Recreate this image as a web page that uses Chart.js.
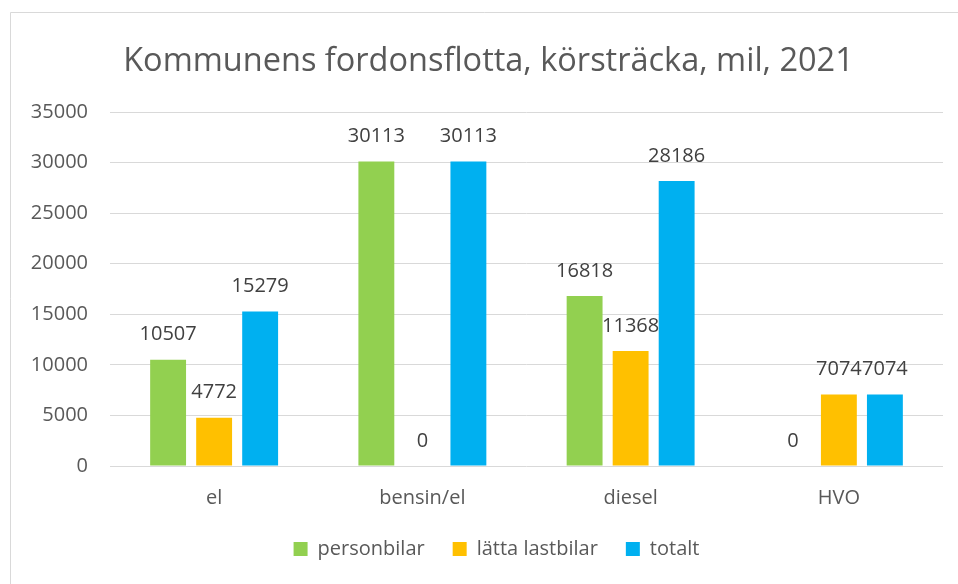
<!DOCTYPE html>
<html>
<head>
<meta charset="utf-8">
<script src="https://cdn.jsdelivr.net/npm/chart.js@4/dist/chart.umd.min.js"></script>
<style>
  html, body { margin: 0; padding: 0; background: #ffffff; }
  #wrap { width: 958px; height: 584px; position: relative; }
</style>
</head>
<body>
<div id="wrap"><canvas id="c" width="958" height="584"></canvas></div>
<script>
const titleText = "Kommunens fordonsflotta, körsträcka, mil, 2021";
const categories = ["el", "bensin/el", "diesel", "HVO"];
const seriesNames = ["personbilar", "lätta lastbilar", "totalt"];
const personbilar = [10507, 30113, 16818, 0];
const lattaLastbilar = [4772, 0, 11368, 7074];
const totalt = [15279, 30113, 28186, 7074];
const yTicks = [0, 5000, 10000, 15000, 20000, 25000, 30000, 35000];

const FONT = "'Open Sans', 'Noto Sans', sans-serif";
const FS = 20;

const frame = {
  id: 'frame',
  afterLayout(chart) {
    if (chart.titleBlock) { chart.titleBlock.left += 11; chart.titleBlock.right += 11; }
    if (chart.legend) { chart.legend.left += 19; chart.legend.right += 19; }
  },
  beforeDraw(chart) {
    const ctx = chart.ctx;
    ctx.save();
    ctx.fillStyle = '#ffffff';
    ctx.fillRect(0, 0, chart.width, chart.height);
    ctx.strokeStyle = '#d9d9d9';
    ctx.lineWidth = 1;
    ctx.beginPath();
    ctx.moveTo(10.5, chart.height);
    ctx.lineTo(10.5, 12.5);
    ctx.lineTo(chart.width, 12.5);
    ctx.stroke();
    ctx.restore();
  }
};

const valueLabels = {
  id: 'valueLabels',
  afterDatasetsDraw(chart) {
    const ctx = chart.ctx;
    ctx.save();
    ctx.font = FS + "px " + FONT;
    ctx.fillStyle = '#404040';
    ctx.textAlign = 'center';
    ctx.textBaseline = 'middle';
    chart.data.datasets.forEach((ds, i) => {
      const meta = chart.getDatasetMeta(i);
      meta.data.forEach((bar, j) => {
        ctx.fillText(String(ds.data[j]), bar.x, bar.y - 25);
      });
    });
    ctx.restore();
  }
};

new Chart(document.getElementById('c'), {
  type: 'bar',
  data: {
    labels: categories,
    datasets: [
      { label: seriesNames[0], data: personbilar, backgroundColor: '#92D050' },
      { label: seriesNames[1], data: lattaLastbilar, backgroundColor: '#FFC000' },
      { label: seriesNames[2], data: totalt, backgroundColor: '#00B0F0' }
    ]
  },
  options: {
    responsive: false,
    animation: false,
    devicePixelRatio: 1,
    categoryPercentage: 0.663,
    barPercentage: 0.78,
    layout: { padding: { left: 12, right: 15, top: 0, bottom: 15 } },
    plugins: {
      title: {
        display: true,
        text: titleText,
        color: '#595959',
        font: { family: FONT, size: 32.5, weight: 'normal' },
        padding: { top: 42, bottom: 31 }
      },
      legend: {
        position: 'bottom',
        labels: {
          color: '#595959',
          font: { family: FONT, size: FS },
          boxWidth: 14,
          boxHeight: 14,
          padding: 28
        }
      },
      tooltip: { enabled: false }
    },
    scales: {
      x: {
        grid: { display: false, drawTicks: false },
        border: { display: false },
        ticks: { color: '#595959', font: { family: FONT, size: FS }, padding: 20 },
        afterFit(scale) { scale.height = 45; }
      },
      y: {
        min: 0,
        max: 35000,
        afterBuildTicks(scale) { scale.ticks = yTicks.map(v => ({ value: v })); },
        grid: { color: '#d9d9d9', lineWidth: 1, drawTicks: false },
        border: { display: false },
        ticks: { color: '#595959', font: { family: FONT, size: FS }, padding: 22, callback: v => String(v) },
        afterFit(scale) { scale.width = 98; }
      }
    }
  },
  plugins: [frame, valueLabels]
});
</script>
</body>
</html>
